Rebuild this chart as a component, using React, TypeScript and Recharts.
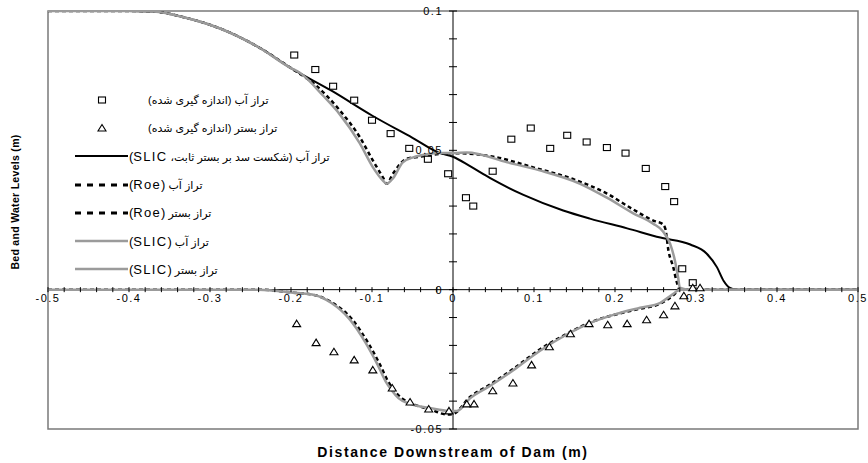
import React from "react";
import {
  ComposedChart,
  Line,
  Scatter,
  XAxis,
  YAxis,
  ReferenceLine,
  ReferenceDot,
  ReferenceArea,
  Legend,
  Customized,
} from "recharts";

// measured levels (x, level) in m
const measuredWater: [number, number][] = [
  [-0.196, 0.0842], [-0.17, 0.079], [-0.148, 0.073], [-0.122, 0.068], [-0.1, 0.0608],
  [-0.077, 0.056], [-0.054, 0.0507], [-0.031, 0.0468], [-0.006, 0.0416], [0.016, 0.033],
  [0.025, 0.030], [0.049, 0.0425], [0.072, 0.054], [0.096, 0.058], [0.12, 0.0507],
  [0.141, 0.0554], [0.165, 0.053], [0.19, 0.051], [0.213, 0.049], [0.238, 0.0435],
  [0.262, 0.037], [0.273, 0.0316], [0.283, 0.0075], [0.296, 0.0025],
];

const measuredBed: [number, number][] = [
  [-0.193, -0.0122], [-0.169, -0.019], [-0.147, -0.0223], [-0.122, -0.0252], [-0.099, -0.0288],
  [-0.075, -0.0353], [-0.053, -0.0403], [-0.03, -0.0428], [-0.005, -0.0435], [0.017, -0.041],
  [0.026, -0.041], [0.049, -0.0363], [0.074, -0.0335], [0.097, -0.027], [0.119, -0.0205],
  [0.145, -0.0158], [0.168, -0.0122], [0.191, -0.0126], [0.215, -0.0122], [0.239, -0.0108],
  [0.26, -0.009], [0.274, -0.0058], [0.285, -0.0022], [0.296, 0.0007], [0.305, 0.0007],
];

// fixed-bed dam break, SLIC
const fixedBedWater: [number, number][] = [
  [-0.5, 0.1], [-0.4, 0.1], [-0.37, 0.0998], [-0.33, 0.0976], [-0.29, 0.094], [-0.24, 0.087],
  [-0.2, 0.0795], [-0.15, 0.0714], [-0.1, 0.0625], [-0.05, 0.0545], [-0.016, 0.049],
  [0, 0.0477], [0.021, 0.0443], [0.046, 0.04], [0.087, 0.034], [0.136, 0.0284],
  [0.169, 0.0255], [0.215, 0.022], [0.256, 0.0187], [0.293, 0.0162], [0.313, 0.013],
  [0.326, 0.008], [0.334, 0.0032], [0.342, 0.0006], [0.35, 0], [0.5, 0],
];

const roeWater: [number, number][] = [
  [-0.5, 0.1], [-0.4, 0.1], [-0.37, 0.0998], [-0.33, 0.0976], [-0.29, 0.094], [-0.24, 0.087],
  [-0.2, 0.0795], [-0.17, 0.0735], [-0.14, 0.0644], [-0.115, 0.0547], [-0.099, 0.0464],
  [-0.086, 0.04], [-0.082, 0.038], [-0.074, 0.0417], [-0.057, 0.047], [-0.041, 0.0477],
  [-0.016, 0.0487], [0, 0.049], [0.05, 0.0477], [0.1, 0.0438], [0.15, 0.0395], [0.19, 0.0345],
  [0.22, 0.0292], [0.25, 0.0245], [0.258, 0.0237], [0.262, 0.022], [0.266, 0.014],
  [0.272, 0.008], [0.276, 0.003], [0.28, 0], [0.5, 0],
];

const roeBed: [number, number][] = [
  [-0.5, 0], [-0.24, 0], [-0.2, -0.001], [-0.17, -0.002], [-0.15, -0.0045], [-0.125, -0.0105],
  [-0.105, -0.019], [-0.09, -0.027], [-0.08, -0.033], [-0.073, -0.036], [-0.063, -0.039],
  [-0.05, -0.041], [-0.028, -0.043], [-0.007, -0.0448], [0, -0.0446], [0.021, -0.0385],
  [0.046, -0.034], [0.074, -0.0285], [0.107, -0.0215], [0.141, -0.0158], [0.169, -0.0118],
  [0.202, -0.0088], [0.231, -0.0068], [0.256, -0.005], [0.272, -0.002], [0.28, 0], [0.5, 0],
];

const slicWater: [number, number][] = [
  [-0.5, 0.1], [-0.4, 0.1], [-0.37, 0.0998], [-0.33, 0.0976], [-0.29, 0.094], [-0.24, 0.087],
  [-0.2, 0.0795], [-0.19, 0.078], [-0.16, 0.0695], [-0.14, 0.063], [-0.115, 0.0525],
  [-0.099, 0.044], [-0.086, 0.039], [-0.082, 0.038], [-0.074, 0.04], [-0.062, 0.0457],
  [-0.049, 0.0475], [-0.032, 0.0486], [-0.016, 0.049], [0, 0.049], [0.017, 0.0492],
  [0.067, 0.0457], [0.107, 0.0428], [0.157, 0.038], [0.19, 0.033], [0.222, 0.0275],
  [0.247, 0.0237], [0.259, 0.021], [0.268, 0.0165], [0.274, 0.0104], [0.278, 0.0043],
  [0.28, 0.0007], [0.29, 0], [0.5, 0],
];

const slicBed: [number, number][] = [
  [-0.5, 0], [-0.24, 0], [-0.2, -0.001], [-0.17, -0.002], [-0.15, -0.0048], [-0.128, -0.0105],
  [-0.108, -0.019], [-0.093, -0.027], [-0.083, -0.033], [-0.076, -0.036], [-0.067, -0.039],
  [-0.053, -0.041], [-0.028, -0.0425], [-0.005, -0.0435], [0.005, -0.0435], [0.021, -0.039],
  [0.046, -0.0345], [0.074, -0.029], [0.107, -0.022], [0.141, -0.016], [0.169, -0.012],
  [0.202, -0.0087], [0.231, -0.0065], [0.256, -0.0047], [0.272, -0.0015], [0.28, 0], [0.5, 0],
];

const xLabels = [-0.5, -0.4, -0.3, -0.2, -0.1, 0, 0.1, 0.2, 0.3, 0.4, 0.5];
const yLabels = [0.1, 0.05, 0, -0.05];

const legendLabels = [
  "تراز آب (اندازه گیری شده)",
  "تراز بستر (اندازه گیری شده)",
  "تراز آب (شکست سد بر بستر ثابت، SLIC)",
  "تراز آب (Roe)",
  "تراز بستر (Roe)",
  "تراز آب (SLIC)",
  "تراز بستر (SLIC)",
];

const toRows = (pts: [number, number][]) => pts.map(([x, y]) => ({ x, y }));

const xMinor: number[] = [];
for (let i = -25; i <= 25; i++) xMinor.push(Math.round(i * 2) / 100);
const yMinor: number[] = [];
for (let i = -5; i <= 10; i++) yMinor.push(i / 100);

const FONT = '"Liberation Sans", Arial, "DejaVu Sans", sans-serif';
const GRAY = "#9b9b9b";

const SquareDot = (p: any) => (
  <rect x={p.cx - 3.5} y={p.cy - 3} width={7} height={6} fill="#fff" stroke="#000" strokeWidth={1.1} />
);
const TriDot = (p: any) => (
  <path d={`M${p.cx},${p.cy - 3.5} L${p.cx + 4},${p.cy + 3} L${p.cx - 4},${p.cy + 3} Z`} fill="#fff" stroke="#000" strokeWidth={1.1} />
);

const fmt = (v: number) => (v === 0 ? "0" : String(v));

// latin parts of the legend text are drawn larger, like in the source figure
const renderLabel = (label: string) =>
  label.split(/(\(?(?:SLIC|Roe)\)?)/).map((part, k) =>
    /SLIC|Roe/.test(part) ? (
      <span key={k} style={{ fontSize: 13, letterSpacing: 1.3 }}>
        {part}
      </span>
    ) : (
      <span key={k}>{part}</span>
    )
  );

function LegendBox() {
  const symbol = (i: number) => {
    if (i === 0) return <rect x={23.5} y={11} width={7} height={6} fill="#fff" stroke="#000" strokeWidth={1.1} />;
    if (i === 1) return <path d="M27,10.5 L31,17 L23,17 Z" fill="#fff" stroke="#000" strokeWidth={1.1} />;
    if (i === 2) return <line x1={0} y1={14} x2={53} y2={14} stroke="#000" strokeWidth={2} />;
    if (i === 3 || i === 4)
      return <line x1={0} y1={14} x2={53} y2={14} stroke="#000" strokeWidth={3} strokeDasharray="6 6" />;
    return <line x1={0} y1={14} x2={53} y2={14} stroke={GRAY} strokeWidth={2.5} />;
  };
  return (
    <div style={{ fontFamily: FONT, fontSize: 11, color: "#000" }}>
      {legendLabels.map((label, i) => (
        <div key={i} style={{ display: "flex", alignItems: "center", height: 28.2 }}>
          <svg width={53} height={28} style={{ flex: "none" }}>
            {symbol(i)}
          </svg>
          <span dir="rtl" style={{ unicodeBidi: "isolate", marginLeft: i < 2 ? 20 : 1, whiteSpace: "nowrap" }}>
            {renderLabel(label)}
          </span>
        </div>
      ))}
    </div>
  );
}

export default function App() {
  return (
    <div style={{ position: "absolute", left: 0, top: 0, width: 868, height: 463, background: "#fff" }}>
      <ComposedChart width={868} height={463} margin={{ top: 11, right: 10, bottom: 34, left: 48 }}>
        <XAxis type="number" dataKey="x" domain={[-0.5, 0.5]} allowDataOverflow hide />
        <YAxis type="number" dataKey="y" domain={[-0.05, 0.1]} allowDataOverflow hide />
        <ReferenceArea x1={-0.5} x2={0.5} y1={-0.05} y2={0.1} fill="none" stroke="#7a7a7a" strokeWidth={1.5} />
        <ReferenceLine y={0} stroke="#000" strokeWidth={1} />
        <ReferenceLine x={0} stroke="#000" strokeWidth={1} />
        {xMinor.map((t) => (
          <ReferenceDot
            key={"xt" + t}
            x={t}
            y={0}
            r={0}
            shape={(p: any) => <line x1={p.cx} y1={p.cy - 2.5} x2={p.cx} y2={p.cy + 2.5} stroke="#000" strokeWidth={1} />}
          />
        ))}
        {yMinor.map((t) => (
          <ReferenceDot
            key={"yt" + t}
            x={0}
            y={t}
            r={0}
            shape={(p: any) => <line x1={p.cx - 4} y1={p.cy} x2={p.cx + 4} y2={p.cy} stroke="#000" strokeWidth={1} />}
          />
        ))}
        {xLabels.map((t) => (
          <ReferenceDot
            key={"xl" + t}
            x={t}
            y={0}
            r={0}
            label={{ value: fmt(t), position: "bottom", offset: 5, fill: "#000", fontSize: 11, fontFamily: FONT, letterSpacing: 1.5 }}
          />
        ))}
        {yLabels.map((t) => (
          <ReferenceDot
            key={"yl" + t}
            x={0}
            y={t}
            r={0}
            label={{ value: fmt(t), position: "left", offset: 10, fill: "#000", fontSize: 11, fontFamily: FONT, letterSpacing: 1.5 }}
          />
        ))}
        <Line data={toRows(fixedBedWater)} dataKey="y" type="monotone" stroke="#000" strokeWidth={2} dot={false} isAnimationActive={false} />
        <Line data={toRows(roeWater)} dataKey="y" type="monotone" stroke="#000" strokeWidth={2.5} strokeDasharray="4 3" dot={false} isAnimationActive={false} />
        <Line data={toRows(roeBed)} dataKey="y" type="monotone" stroke="#000" strokeWidth={2.5} strokeDasharray="4 3" dot={false} isAnimationActive={false} />
        <Line data={toRows(slicWater)} dataKey="y" type="monotone" stroke={GRAY} strokeWidth={2.5} dot={false} isAnimationActive={false} />
        <Line data={toRows(slicBed)} dataKey="y" type="monotone" stroke={GRAY} strokeWidth={2.5} dot={false} isAnimationActive={false} />
        <Scatter data={toRows(measuredWater)} dataKey="y" shape={SquareDot} isAnimationActive={false} />
        <Scatter data={toRows(measuredBed)} dataKey="y" shape={TriDot} isAnimationActive={false} />
        <Legend
          layout="horizontal"
          align="center"
          verticalAlign="middle"
          content={() => <LegendBox />}
          wrapperStyle={{ left: 75, top: 86, width: 320, height: 200 }}
        />
        <Customized
          component={
            <g>
              <text
                transform="translate(19,202) rotate(-90)"
                textAnchor="middle"
                fontFamily={FONT}
                fontSize={10.5}
                fontWeight="bold"
                fill="#000"
                letterSpacing={0.3}
              >
                Bed and Water Levels (m)
              </text>
              <text x={453} y={457} textAnchor="middle" fontFamily={FONT} fontSize={14} fontWeight="bold" fill="#000" letterSpacing={1.6}>
                Distance Downstream of Dam (m)
              </text>
            </g>
          }
        />
      </ComposedChart>
    </div>
  );
}
